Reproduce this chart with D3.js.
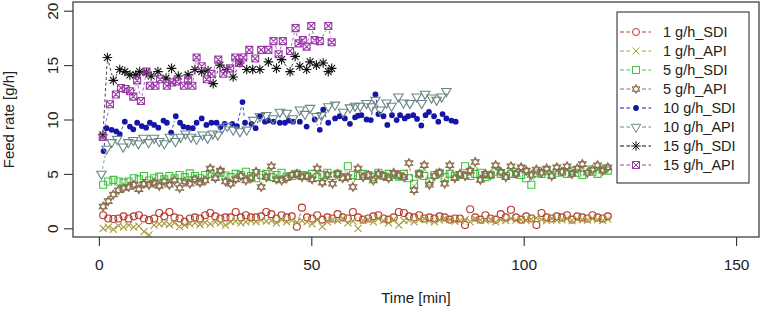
<!DOCTYPE html>
<html>
<head>
<meta charset="utf-8">
<script src="https://cdn.jsdelivr.net/npm/d3@7"></script>
<style>
  html, body { margin: 0; background: #fff; }
  svg { display: block; font-family: "Liberation Sans", Arial, sans-serif; }
</style>
</head>
<body>
<div id="chart"></div>
<script>
// ---- data (time in min, feed rate in g/h) ----
const seriesNames = ['1 g/h_SDI', '1 g/h_API', '5 g/h_SDI', '5 g/h_API',
                     '10 g/h_SDI', '10 g/h_API', '15 g/h_SDI', '15 g/h_API'];

// shared time base of the long (1 and 5 g/h) runs
const timeLong = [
  1.0, 2.2, 3.4, 4.6, 5.8, 7.0, 8.2, 9.4, 10.6, 11.8,
  13.0, 14.2, 15.4, 16.6, 17.8, 19.0, 20.2, 21.4, 22.6, 23.8,
  25.0, 26.2, 27.4, 28.6, 29.8, 31.0, 32.2, 33.4, 34.6, 35.8,
  37.0, 38.2, 39.4, 40.6, 41.8, 43.0, 44.2, 45.4, 46.6, 47.8,
  49.0, 50.2, 51.4, 52.6, 53.8, 55.0, 56.2, 57.4, 58.6, 59.8,
  61.0, 62.2, 63.4, 64.6, 65.8, 67.0, 68.2, 69.4, 70.6, 71.8,
  73.0, 74.2, 75.4, 76.6, 77.8, 79.0, 80.2, 81.4, 82.6, 83.8,
  85.0, 86.2, 87.4, 88.6, 89.8, 91.0, 92.2, 93.4, 94.6, 95.8,
  97.0, 98.2, 99.4, 100.6, 101.8, 103.0, 104.2, 105.4, 106.6, 107.8,
  109.0, 110.2, 111.4, 112.6, 113.8, 115.0, 116.2, 117.4, 118.6, 119.8
];
const rate1SDI = [
  1.2, 0.9, 0.85, 0.9, 1.1, 0.9, 1.1, 1.2, 0.9, 0.75,
  0.9, 1.4, 1.1, 1.5, 1.0, 0.9, 0.6, 0.9, 1.0, 0.9,
  1.2, 1.4, 1.1, 0.9, 1.0, 1.0, 1.5, 1.0, 1.2, 1.0,
  1.0, 1.1, 1.5, 1.3, 0.9, 1.2, 1.0, 1.1, 0.15, 1.9,
  1.0, 0.9, 1.2, 0.8, 1.0, 0.9, 1.3, 1.0, 0.9, 1.5,
  1.0, 0.8, 0.9, 1.1, 1.2, 0.9, 0.8, 1.0, 1.5, 1.4,
  1.1, 1.0, 1.2, 0.9, 1.0, 0.9, 1.1, 1.0, 0.8, 0.9,
  0.9, 0.3, 1.75, 1.0, 0.8, 1.2, 0.9, 0.8, 1.3, 1.0,
  1.7, 1.0, 0.8, 1.1, 0.9, 0.3, 1.4, 1.0, 0.9, 1.1,
  1.0, 1.2, 0.8, 1.1, 1.0, 0.9, 1.2, 1.0, 0.9, 1.1
];
const rate1API = [
  0.0, 0.1, -0.1, 0.25, 0.1, 0.3, 0.1, 0.2, -0.3, -0.6,
  0.3, 0.4, 0.45, 0.35, 0.5, 0.15, 0.3, 0.4, 0.5, 0.35,
  0.55, 0.4, 0.6, 0.5, 0.3, 0.6, 0.65, 0.5, 0.6, 0.7,
  0.6, 0.75, 0.65, 0.7, 0.5, 0.8, 0.6, 0.75, 0.55, 0.7,
  0.6, 0.4, 0.75, 0.15, 0.6, 0.8, 0.7, 0.9, 0.5, 0.65,
  0.0, 0.7, 0.8, 0.6, 0.9, 0.7, 0.5, 0.8, 0.3, 0.7,
  0.75, 0.6, 0.8, 0.9, 0.7, 0.6, 0.75, 0.9, 0.8, 0.65,
  0.7, 0.8, 0.6, 0.9, 0.75, 0.7, 0.85, 0.6, 0.8, 0.7,
  0.9, 0.75, 0.8, 0.7, 0.85, 0.95, 0.8, 0.7, 0.9, 0.75,
  0.8, 0.9, 0.7, 0.85, 0.8, 0.75, 0.9, 0.8, 0.7, 0.85
];
const rate5SDI = [
  4.0, 4.3, 4.45, 4.3, 4.2, 4.3, 4.6, 4.5, 4.8, 4.4,
  4.6, 4.75, 4.5, 4.8, 4.6, 4.9, 4.7, 5.05, 4.8, 4.6,
  4.9, 5.0, 4.75, 5.1, 4.85, 4.7, 5.0, 4.9, 5.2, 4.8,
  4.6, 4.9, 5.0, 4.7, 4.9, 5.1, 4.75, 4.8, 5.0, 4.9,
  4.8, 5.0, 4.7, 4.9, 5.1, 4.8, 5.0, 4.7, 5.7, 4.9,
  4.8, 5.0, 4.9, 4.7, 5.1, 4.8, 5.0, 4.9, 4.75, 5.0,
  4.6, 4.1, 5.0, 4.8, 4.3, 4.9, 5.1, 4.7, 5.0, 4.8,
  4.9, 5.7, 4.8, 5.0, 5.1, 4.7, 4.9, 5.2, 5.0, 4.8,
  5.0, 5.2, 4.9, 4.6, 4.0, 5.1, 5.0, 5.3, 4.9, 5.1,
  5.2, 5.0, 5.3, 5.1, 4.9, 5.4, 5.2, 5.0, 5.5, 5.3
];
const rate5API = [
  2.0, 2.5, 3.1, 3.5, 3.7, 3.8, 4.0, 3.6, 4.1, 4.0,
  4.2, 3.9, 4.3, 4.0, 4.4, 3.7, 4.3, 4.1, 4.5, 4.2,
  4.4, 5.5, 4.6, 5.3, 4.3, 4.1, 4.5, 4.8, 4.4, 4.6,
  5.2, 3.8, 4.7, 5.7, 4.5, 4.4, 4.6, 4.9, 5.0, 4.7,
  4.8, 4.5, 5.5, 4.2, 4.9, 4.1, 5.0, 4.6, 4.7, 3.8,
  5.5, 4.7, 4.9, 4.4, 5.0, 4.8, 4.6, 5.1, 4.9, 4.7,
  6.0, 3.5, 5.0, 5.8, 4.0, 4.8, 5.1, 4.1, 5.8, 4.6,
  5.0, 4.8, 5.3, 6.1, 4.45, 5.0, 4.9, 5.8, 5.2, 4.7,
  5.7, 5.0, 5.6, 5.3, 4.9, 5.4, 5.1, 5.5, 4.8, 5.6,
  5.2, 5.7, 5.0, 5.5, 5.9, 5.1, 5.4, 5.8, 5.3, 5.6
];

const time10SDI = [
  1.1, 1.8, 3.0, 4.1, 4.9, 6.1, 7.3, 8.1, 9.0, 10.1,
  11.1, 12.0, 13.0, 14.0, 15.2, 16.0, 17.0, 18.1, 19.1, 19.9,
  21.0, 22.1, 23.0, 24.2, 25.3, 26.5, 27.7, 28.6, 29.6, 31.4,
  32.5, 33.8, 34.4, 35.9, 36.9, 37.9, 39.1, 39.9, 41.1, 42.6,
  43.8, 44.7, 45.7, 47.3, 48.9, 50.8, 52.0, 52.8, 54.0, 55.6,
  56.7, 57.9, 59.1, 60.3, 61.0, 61.8, 63.0, 64.0, 65.1, 65.8,
  67.0, 67.9, 69.0, 70.1, 70.9, 72.0, 72.8, 74.0, 74.9, 75.9,
  76.9, 77.7, 78.9, 79.9, 80.9, 81.8, 83.0, 84.0
];
const rate10SDI = [
  7.1, 9.2, 9.05, 8.9, 8.65, 9.8, 9.35, 9.1, 9.7, 9.4,
  9.25, 9.7, 9.5, 9.25, 9.9, 9.7, 8.8, 10.3, 9.7, 9.35,
  9.25, 9.2, 9.7, 10.1, 9.5, 9.7, 9.7, 9.3, 9.6, 9.6,
  9.4, 11.6, 9.7, 9.6, 9.2, 10.3, 9.8, 9.9, 9.8, 9.7,
  9.7, 9.9, 9.8, 9.8, 9.35, 10.0, 9.05, 10.9, 9.7, 10.1,
  10.3, 10.1, 9.6, 10.2, 10.35, 10.4, 10.0, 9.95, 12.3, 10.5,
  10.3, 9.5, 10.4, 9.95, 10.4, 10.1, 10.3, 10.4, 10.05, 9.45,
  10.4, 10.7, 10.3, 9.8, 10.5, 10.1, 9.9, 9.8
];
const time10API = [
  0.6, 1.8, 3.0, 4.3, 5.7, 6.9, 8.1, 9.3, 10.5, 11.7,
  13.0, 14.2, 15.4, 16.7, 18.0, 19.2, 20.4, 21.7, 23.0, 24.4,
  25.6, 26.8, 28.0, 29.0, 30.2, 31.6, 33.2, 34.8, 36.3, 37.9,
  39.4, 41.0, 42.6, 44.2, 45.7, 47.3, 48.5, 49.7, 51.2, 52.4,
  54.0, 55.6, 57.5, 59.1, 60.3, 61.5, 63.0, 64.2, 65.1, 66.2,
  67.7, 68.9, 70.5, 71.7, 73.2, 74.8, 76.0, 76.8, 78.3, 79.5,
  80.7, 81.8
];
const rate10API = [
  5.0, 7.3, 7.9, 8.2, 7.5, 7.9, 8.1, 7.8, 8.3, 7.9,
  8.3, 8.0, 7.8, 8.4, 8.0, 8.4, 8.7, 8.4, 8.2, 8.6,
  8.3, 8.7, 8.6, 9.2, 9.4, 9.05, 8.9, 9.05, 9.95, 10.3,
  10.4, 10.1, 10.7, 10.6, 10.1, 10.9, 10.5, 11.05, 10.3, 10.4,
  11.2, 11.35, 10.7, 11.1, 11.25, 11.25, 11.5, 11.2, 11.8, 10.9,
  11.55, 11.25, 12.1, 11.55, 11.5, 12.1, 11.5, 12.35, 12.0, 11.8,
  12.1, 12.6
];

const time15SDI = [
  0.95, 2.0, 3.4, 4.9, 6.1, 7.3, 8.7, 9.6, 11.2, 12.3,
  13.9, 15.8, 17.1, 18.7, 21.0, 22.6, 24.2, 25.7, 26.9, 28.5,
  30.1, 31.6, 33.2, 34.8, 36.2, 37.9, 39.9, 41.8, 43.0, 45.0,
  46.2, 47.3, 48.9, 49.7, 51.2, 52.8, 54.0, 54.8
];
const rate15SDI = [
  8.6, 15.7, 13.6, 14.6, 14.4, 14.1, 14.1, 14.4, 14.3, 14.0,
  14.4, 13.8, 14.7, 14.0, 14.1, 14.6, 14.4, 14.5, 13.3, 15.0,
  14.6, 13.9, 15.2, 14.6, 14.6, 14.6, 15.3, 14.7, 15.5, 14.4,
  15.8, 14.9, 14.6, 15.3, 15.0, 15.2, 14.4, 14.7
];
const time15API = [
  0.9, 2.6, 4.0, 5.2, 6.3, 7.3, 8.1, 9.0, 9.9, 11.2,
  12.0, 13.3, 14.4, 16.0, 17.2, 18.3, 20.0, 21.0, 22.0, 23.0,
  24.2, 25.4, 26.5, 28.1, 29.3, 30.9, 32.1, 33.0, 34.0, 35.4,
  36.8, 38.2, 39.9, 41.1, 42.3, 43.3, 45.0, 46.3, 47.0, 48.0,
  48.9, 50.0, 50.8, 52.0, 54.0, 54.8
];
const rate15API = [
  8.4, 11.4, 12.3, 12.9, 12.8, 12.6, 12.1, 13.6, 11.7, 14.4,
  13.1, 13.1, 13.7, 13.1, 13.4, 13.5, 13.1, 13.6, 13.1, 15.7,
  14.9, 13.7, 14.2, 15.5, 14.2, 14.7, 15.7, 15.2, 15.7, 16.4,
  15.6, 16.4, 16.4, 17.2, 16.0, 17.2, 16.3, 18.4, 17.0, 17.3,
  16.7, 18.6, 17.3, 17.2, 18.6, 17.1
];

const xTicks = [0, 50, 100, 150];
const yTicks = [0, 5, 10, 15, 20];

// ---- layout ----
const W = 762, H = 316;
const box = { left: 73, right: 759, top: 2, bottom: 237 };

const x = d3.scaleLinear().domain([-6.1, 155.4]).range([box.left, box.right]);
const y = d3.scaleLinear().domain([-0.8, 20.8]).range([box.bottom, box.top]);

const series = [
  { t: timeLong,  v: rate1SDI,  shape: 'circle',   color: '#b5362c' },
  { t: timeLong,  v: rate1API,  shape: 'cross',    color: '#a89a38' },
  { t: timeLong,  v: rate5SDI,  shape: 'square',   color: '#3cc43c' },
  { t: timeLong,  v: rate5API,  shape: 'david',    color: '#8c6e50' },
  { t: time10SDI, v: rate10SDI, shape: 'dot',      color: '#1515a8' },
  { t: time10API, v: rate10API, shape: 'triDown',  color: '#6a8686' },
  { t: time15SDI, v: rate15SDI, shape: 'asterisk', color: '#111111' },
  { t: time15API, v: rate15API, shape: 'boxX',     color: '#9c3aa8' }
].map((s, i) => Object.assign(s, { name: seriesNames[i] }));

// R-like plotting symbols, drawn around (0,0)
function symbolPath(shape) {
  const r = 3.5;
  switch (shape) {
    case 'circle':
    case 'dot': {
      const c = shape === 'dot' ? 2.9 : r;
      return `M${c},0A${c},${c} 0 1,1 ${-c},0A${c},${c} 0 1,1 ${c},0Z`;
    }
    case 'cross':
      return `M${-r},${-r}L${r},${r}M${-r},${r}L${r},${-r}`;
    case 'square':
      return `M${-r},${-r}H${r}V${r}H${-r}Z`;
    case 'boxX':
      return `M${-r},${-r}H${r}V${r}H${-r}ZM${-r},${-r}L${r},${r}M${-r},${r}L${r},${-r}`;
    case 'david': {
      const R = 4.5, a = R * 0.866, b = R / 2;
      return `M0,${-R}L${a},${b}L${-a},${b}ZM0,${R}L${a},${-b}L${-a},${-b}Z`;
    }
    case 'triDown':
      return `M${-4.7},${-2.7}L4.7,${-2.7}L0,5.4Z`;
    case 'asterisk': {
      const p = 4.8, q = 3.4;
      return `M${-p},0H${p}M0,${-p}V${p}M${-q},${-q}L${q},${q}M${-q},${q}L${q},${-q}`;
    }
  }
}

const svg = d3.select('#chart').append('svg').attr('width', W).attr('height', H);

// clip marks to the plot region
svg.append('clipPath').attr('id', 'plotClip')
  .append('rect').attr('x', box.left).attr('y', box.top)
  .attr('width', box.right - box.left).attr('height', box.bottom - box.top);

const plot = svg.append('g').attr('clip-path', 'url(#plotClip)');

// type = "b": dashed segments with gaps around the points
const gap = 5.2;
series.forEach(s => {
  const pts = s.t.map((t, i) => [x(t), y(s.v[i])]);
  let d = '';
  for (let i = 1; i < pts.length; i++) {
    const [x0, y0] = pts[i - 1], [x1, y1] = pts[i];
    const dx = x1 - x0, dy = y1 - y0, len = Math.hypot(dx, dy);
    if (len <= 2 * gap) continue;
    const ux = dx / len, uy = dy / len;
    d += `M${x0 + ux * gap},${y0 + uy * gap}L${x1 - ux * gap},${y1 - uy * gap}`;
  }
  plot.append('path').attr('d', d)
    .attr('fill', 'none').attr('stroke', s.color)
    .attr('stroke-width', 0.8).attr('stroke-dasharray', '3,2.5');

  plot.append('g').selectAll('path')
    .data(s.t.map((t, i) => ({ t, v: s.v[i] })))
    .join('path')
    .attr('transform', d => `translate(${x(d.t)},${y(d.v)})`)
    .attr('d', symbolPath(s.shape))
    .attr('fill', s.shape === 'dot' ? s.color : 'none')
    .attr('stroke', s.shape === 'dot' ? 'none' : s.color)
    .attr('stroke-width', 1.1);
});

// frame
svg.append('rect')
  .attr('x', box.left).attr('y', box.top)
  .attr('width', box.right - box.left).attr('height', box.bottom - box.top)
  .attr('fill', 'none').attr('stroke', '#333').attr('stroke-width', 1.2);

// axes
const xAxis = svg.append('g')
  .attr('transform', `translate(0,${box.bottom})`)
  .call(d3.axisBottom(x).tickValues(xTicks).tickSize(9).tickPadding(13));
const yAxis = svg.append('g')
  .attr('transform', `translate(${box.left},0)`)
  .call(d3.axisLeft(y).tickValues(yTicks).tickSize(9).tickPadding(0));

[xAxis, yAxis].forEach(a => {
  a.select('.domain').remove();
  a.selectAll('line').attr('stroke', '#333').attr('stroke-width', 1.1);
  a.selectAll('text').attr('fill', '#222').style('font-size', '15.5px')
    .style('font-family', '"Liberation Sans", Arial, sans-serif');
});
xAxis.selectAll('text').attr('dy', '0.71em');
yAxis.selectAll('text')
  .attr('x', null).attr('dy', null)
  .attr('text-anchor', 'middle')
  .attr('transform', 'translate(-21,0) rotate(-90) translate(0,5.5)');

// axis titles
svg.append('text')
  .attr('x', (box.left + box.right) / 2).attr('y', 303)
  .attr('text-anchor', 'middle').attr('fill', '#222')
  .style('font-size', '15px').text('Time [min]');
svg.append('text')
  .attr('transform', `translate(14,${(box.top + box.bottom) / 2}) rotate(-90)`)
  .attr('text-anchor', 'middle').attr('fill', '#222')
  .style('font-size', '15px').text('Feed rate [g/h]');

// legend
const legend = svg.append('g').attr('transform', 'translate(617,12)');
legend.append('rect').attr('width', 132).attr('height', 171)
  .attr('fill', '#fff').attr('stroke', '#333').attr('stroke-width', 1.1);
series.forEach((s, i) => {
  const row = legend.append('g').attr('transform', `translate(0,${20 + i * 19})`);
  row.append('path').attr('d', 'M3,0H13M25,0H34')
    .attr('stroke', s.color).attr('stroke-dasharray', '4,2.5').attr('stroke-width', 1);
  row.append('path').attr('transform', 'translate(19,0)')
    .attr('d', symbolPath(s.shape))
    .attr('fill', s.shape === 'dot' ? s.color : 'none')
    .attr('stroke', s.shape === 'dot' ? 'none' : s.color);
  row.append('text').attr('x', 46).attr('dy', '0.36em')
    .attr('fill', '#222').style('font-size', '14.5px').text(s.name);
});
</script>
</body>
</html>
